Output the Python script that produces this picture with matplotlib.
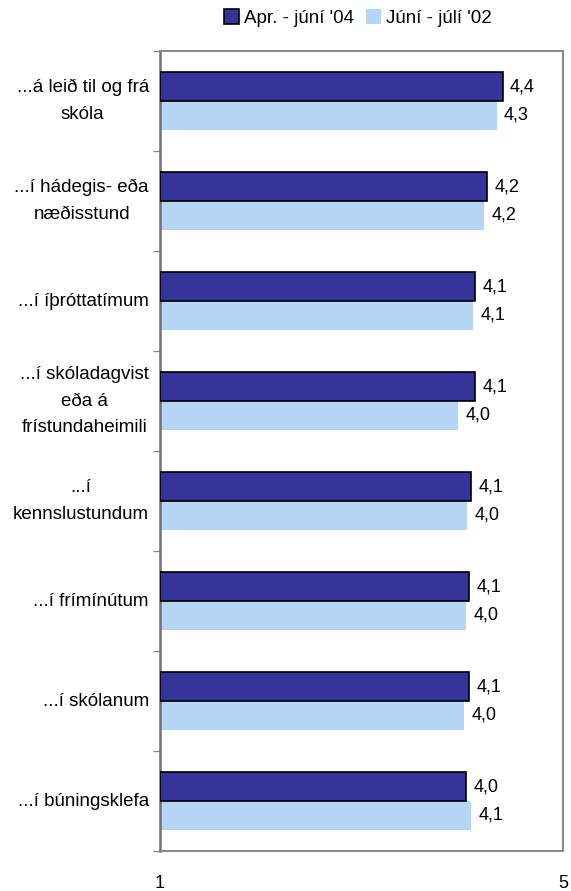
import matplotlib.pyplot as plt
import numpy as np

plt.rcParams['font.family'] = ['Liberation Sans', 'DejaVu Sans']

categories = ["...á leið til og frá\nskóla",
              "...í hádegis- eða\nnæðisstund",
              "...í íþróttatímum",
              "...í skóladagvist\neða á\nfrístundaheimili",
              "...í\nkennslustundum",
              "...í frímínútum",
              "...í skólanum",
              "...í búningsklefa"]
apr_04 = [4.40, 4.25, 4.13, 4.13, 4.09, 4.07, 4.07, 4.04]
jun_02 = [4.34, 4.22, 4.11, 3.96, 4.05, 4.04, 4.02, 4.09]
series_names = ["Apr. - júní '04", "Júní - júlí '02"]

dark = '#333399'
light = '#B4D5F3'
grey = '#8A8A96'

fig = plt.figure(figsize=(5.71, 8.91), dpi=100)
ax = fig.add_axes([160 / 571, 40 / 891, 403 / 571, 800 / 891])

y = np.arange(len(categories))
h = 0.29
b1 = ax.barh(y - h / 2, np.array(apr_04) - 1, left=1, height=h, color=dark,
             edgecolor='black', linewidth=1.2, label=series_names[0], zorder=3)
b2 = ax.barh(y + h / 2, np.array(jun_02) - 1, left=1, height=h, color=light,
             linewidth=0, label=series_names[1], zorder=2)

for bars, vals in ((b1, apr_04), (b2, jun_02)):
    for bar, v in zip(bars, vals):
        ax.text(v + 0.07, bar.get_y() + bar.get_height() / 2,
                ('%.1f' % v).replace('.', ','), va='center', ha='left',
                fontsize=13, color='black')

ax.set_xlim(1, 5)
ax.set_ylim(len(categories) - 0.5, -0.5)
ax.set_xticks([1, 5])
ax.set_xticklabels(['1', '5'], fontsize=13)
ax.tick_params(axis='x', length=0, pad=17)

ax.set_yticks(y)
ax.set_yticklabels(categories, fontsize=13.5, ha='right', va='center',
                   multialignment='center', linespacing=1.72)
ax.tick_params(axis='y', which='major', length=0, pad=8)
ax.set_yticks(np.arange(-0.5, len(categories) + 0.5, 1), minor=True)
ax.tick_params(axis='y', which='minor', length=5, color=grey, width=1)

for side in ['top', 'right', 'bottom']:
    ax.spines[side].set_color(grey)
    ax.spines[side].set_linewidth(1.5)
ax.spines['left'].set_color('#707078')
ax.spines['left'].set_linewidth(1.8)

fig.legend(handles=[b1, b2], loc='center', bbox_to_anchor=(358 / 571, 1 - 18 / 891),
           ncol=2, frameon=False, fontsize=13.5, handlelength=0.8, handleheight=0.8,
           handletextpad=0.3, columnspacing=0.6, borderpad=0)

fig.savefig('out.png', dpi=100)
